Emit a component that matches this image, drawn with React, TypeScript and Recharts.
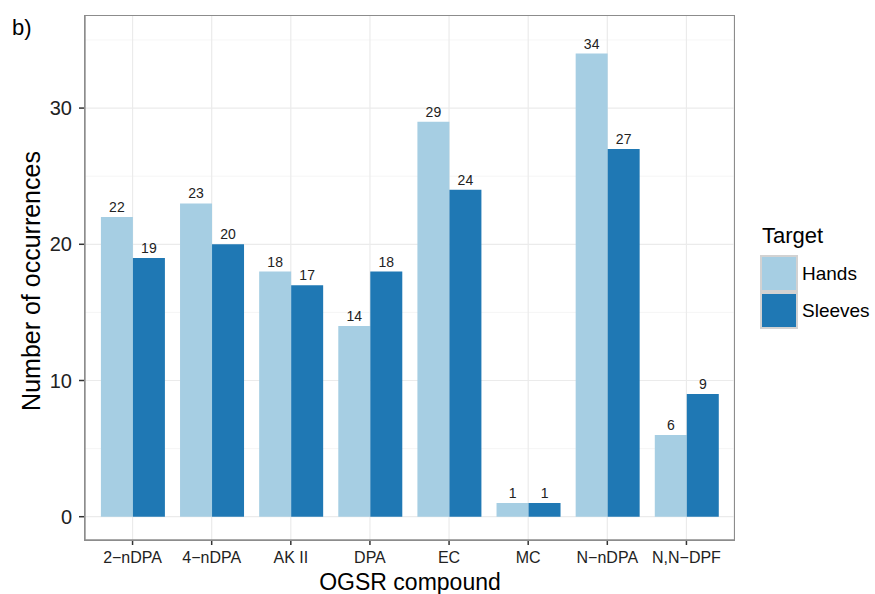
import React from "react";
import { Bar, BarChart, CartesianGrid, LabelList, Legend, XAxis, YAxis } from "recharts";

const categories = ["2\u2212nDPA", "4\u2212nDPA", "AK II", "DPA", "EC", "MC", "N\u2212nDPA", "N,N\u2212DPF"];
const handsValues = [22, 23, 18, 14, 29, 1, 34, 6];
const sleevesValues = [19, 20, 17, 18, 24, 1, 27, 9];
const yTicks = [0, 10, 20, 30];
const yMinorLines = [5, 15, 25, 35];
const seriesNames = ["Hands", "Sleeves"];
const seriesColors = ["#a6cee3", "#1f78b4"];

const data = categories.map((compound, i) => ({
    compound,
    Hands: handsValues[i],
    Sleeves: sleevesValues[i],
}));

const font = "'Liberation Sans', Arial, Helvetica, sans-serif";

const YTitle = () => (
    <text x={31} y={281} transform="rotate(-90, 31, 281)" textAnchor="middle" dominantBaseline="central" fontSize={25} fill="#000" fontFamily={font}>
        Number of occurrences
    </text>
);

const XTitle = () => (
    <text x={410} y={590} textAnchor="middle" fontSize={23} fill="#000" fontFamily={font}>
        OGSR compound
    </text>
);

const TargetLegend = () => (
    <div style={{ fontFamily: font, color: "#000" }}>
        <div style={{ fontSize: 22, lineHeight: "26px", marginBottom: 6, marginLeft: 2 }}>Target</div>
        {seriesNames.map((name, i) => (
            <div key={name} style={{ display: "flex", alignItems: "center", height: 37 }}>
                <div style={{ width: 34, height: 33, border: "2px solid #d2d2d2", background: seriesColors[i] }} />
                <span style={{ fontSize: 19, marginLeft: 4 }}>{name}</span>
            </div>
        ))}
    </div>
);

const App = () => {
    return (
        <div style={{ position: "absolute", left: 0, top: 0, width: 875, height: 594, background: "#fff" }}>
            <div style={{ position: "absolute", left: 12, top: 15, fontSize: 22, fontFamily: font }}>b)</div>
            <BarChart
                width={875}
                height={594}
                data={data}
                margin={{ top: 16, right: 141, bottom: 0, left: 0 }}
                barCategoryGap="10%"
                barGap={0}
            >
                <CartesianGrid horizontalValues={yMinorLines} vertical={false} stroke="#f2f2f2" strokeWidth={0.8} />
                <CartesianGrid horizontalValues={yTicks} stroke="#ebebeb" strokeWidth={1.2} />
                <XAxis
                    dataKey="compound"
                    height={54}
                    padding={{ left: 8, right: 8 }}
                    tickSize={5}
                    tickMargin={7}
                    tick={{ fontSize: 16, fill: "#222", fontFamily: font }}
                    tickLine={{ stroke: "#333", strokeWidth: 1.5 }}
                    axisLine={{ stroke: "#8c8c8c", strokeWidth: 1.3 }}
                    interval={0}
                    label={XTitle}
                />
                <YAxis
                    width={85}
                    domain={[-1.71, 36.76]}
                    allowDataOverflow
                    ticks={yTicks}
                    tickSize={6}
                    tickMargin={7}
                    tick={{ fontSize: 20, fill: "#222", fontFamily: font }}
                    tickLine={{ stroke: "#333", strokeWidth: 1.5 }}
                    axisLine={{ stroke: "#8c8c8c", strokeWidth: 1.3 }}
                    label={YTitle}
                />
                <Legend
                    layout="vertical"
                    align="center"
                    verticalAlign="middle"
                    content={TargetLegend}
                    wrapperStyle={{ left: 760, top: 223, width: 115 }}
                />
                {seriesNames.map((name, i) => (
                    <Bar key={name} dataKey={name} fill={seriesColors[i]} isAnimationActive={false}>
                        <LabelList dataKey={name} position="top" offset={5} fontSize={14} fill="#222" fontFamily={font} />
                    </Bar>
                ))}
            </BarChart>
            <div
                style={{
                    position: "absolute",
                    left: 84,
                    top: 15,
                    width: 649,
                    height: 524,
                    border: "1.3px solid #8c8c8c",
                    pointerEvents: "none",
                }}
            />
        </div>
    );
};

export default App;
